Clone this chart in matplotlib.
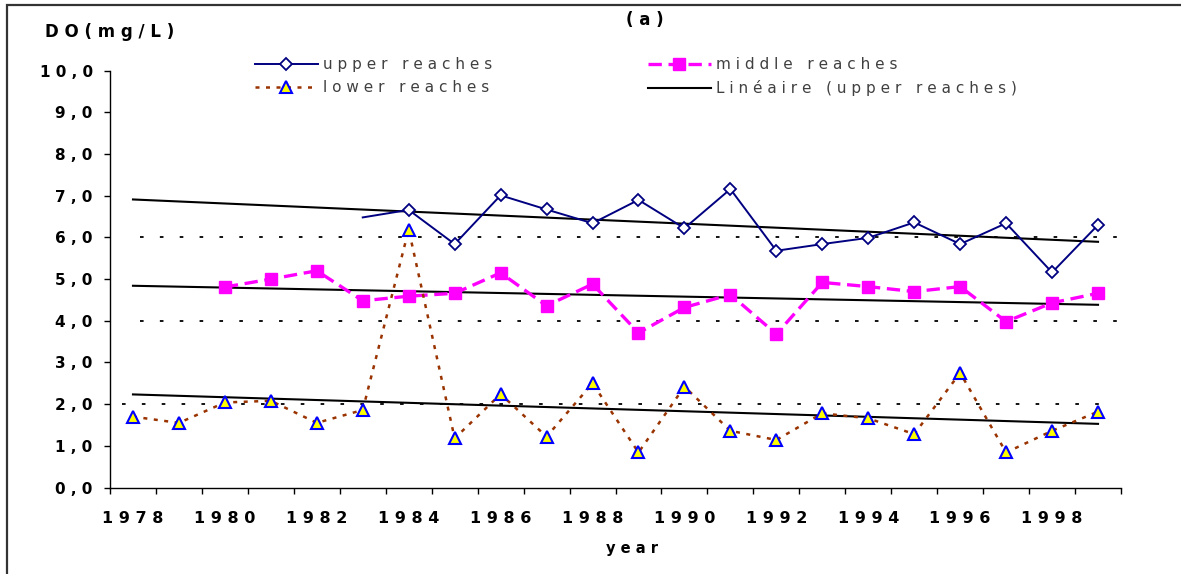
import numpy as np
import matplotlib
matplotlib.use('Agg')
import matplotlib.pyplot as plt
from matplotlib.lines import Line2D
from matplotlib.patches import Rectangle

nan = np.nan

years = list(range(1978, 2000))
upper = [nan, nan, nan, nan, nan, 6.48, 6.66, 5.84, 7.01, 6.67, 6.34,
         6.90, 6.22, 7.16, 5.68, 5.84, 5.99, 6.36, 5.84, 6.34, 5.16, 6.30]
middle = [nan, nan, 4.81, 5.00, 5.20, 4.48, 4.59, 4.66, 5.15, 4.36, 4.88,
          3.71, 4.32, 4.63, 3.68, 4.92, 4.82, 4.70, 4.82, 3.98, 4.43, 4.66]
lower = [1.70, 1.55, 2.04, 2.08, 1.55, 1.86, 6.19, 1.18, 2.24, 1.22, 2.50,
         0.84, 2.42, 1.36, 1.14, 1.78, 1.66, 1.28, 2.75, 0.84, 1.36, 1.82]
ref_levels = [6.0, 4.0, 2.0]
yticks = list(range(0, 11))

FONT = ['Liberation Sans Narrow', 'DejaVu Sans']
plt.rcParams['font.family'] = FONT


def spaced(s):
    return ' '.join(s)


W, H = 1181, 574
fig = plt.figure(figsize=(W / 100, H / 100), dpi=100)
ax = fig.add_axes([110 / W, 1 - 487.5 / H, (1121 - 110) / W, (487.5 - 70.7) / H])

x = np.arange(len(years))

# dotted reference levels
spans = {6.0: (0.03, 1.002), 4.0: (0.03, 1.003), 2.0: (0.012, 0.989)}
for lv in ref_levels:
    a, b = spans[lv]
    ax.axhline(lv, a, b, color='black', lw=1.3, dashes=(2, 9), clip_on=False)

# series
up = np.array(upper)
mid = np.array(middle)
low = np.array(lower)

ku = ~np.isnan(up)
xu, yu = x[ku], up[ku]
ax.plot(xu, yu, color='#000080', lw=1.4, marker='D', ms=5.8, mfc='white',
        mec='#000080', mew=1.3, markevery=list(range(1, len(xu))), zorder=4)

km = ~np.isnan(mid)
ax.plot(x[km], mid[km], color='#ff00ff', lw=2.4, dashes=(4, 2), marker='s',
        ms=8, mfc='#ff00ff', mec='#ff00ff', zorder=4)

ax.plot(x, low, color='#993300', lw=1.8, dashes=(1.6, 2.6), marker='^',
        ms=8, mfc='#ffff00', mec='#0000ff', mew=1.5, zorder=4)

# linear trends over the full year range
for ser in (up, mid, low):
    k = ~np.isnan(ser)
    c = np.polyfit(x[k], ser[k], 1)
    ax.plot(x, np.polyval(c, x), color='black', lw=1.5, zorder=3)

ax.set_xlim(-0.5, len(years) - 0.5)
ax.set_ylim(0, 10)
for s in ('top', 'right'):
    ax.spines[s].set_visible(False)
for s in ('left', 'bottom'):
    ax.spines[s].set_linewidth(1.0)

ax.set_yticks(yticks)
ax.set_yticklabels([spaced(f'{v:.1f}'.replace('.', ',')) for v in yticks],
                   fontsize=11, fontweight='bold')
ax.tick_params(axis='y', length=4.5, width=1, pad=8)

ax.set_xticks(np.arange(-0.5, len(years), 1))
ax.set_xticklabels([])
ax.tick_params(axis='x', which='major', length=4.5, width=1)
ax.set_xticks(x[::2], minor=True)
ax.set_xticklabels([spaced(str(y)) for y in years[::2]], minor=True,
                   fontsize=11.5, fontweight='bold')
ax.tick_params(axis='x', which='minor', length=0, pad=17)

fig.text(45 / W, 1 - 32 / H, spaced('DO(mg/L)'), fontsize=12, fontweight='bold',
         ha='left', va='center')
fig.text(645 / W, 1 - 20 / H, spaced('(a)'), fontsize=12, fontweight='bold',
         ha='center', va='center')
fig.text(632 / W, 1 - 548 / H, spaced('year'), fontsize=10.5, fontweight='bold',
         ha='center', va='center')

# legends
h_up = Line2D([], [], color='#000080', lw=1.4, marker='D', ms=5.8, mfc='white',
              mec='#000080', mew=1.3)
h_low = Line2D([], [], color='#993300', lw=1.8, dashes=(1.6, 2.6), marker='^',
               ms=8, mfc='#ffff00', mec='#0000ff', mew=1.5)
h_mid = Line2D([], [], color='#ff00ff', lw=2.4, dashes=(4, 2), marker='s', ms=8,
               mfc='#ff00ff', mec='#ff00ff')
h_tr = Line2D([], [], color='black', lw=1.5)

kw = dict(loc='upper left', frameon=False, fontsize=11, handlelength=4.1,
          handletextpad=0.35, labelspacing=0.55, borderpad=0, borderaxespad=0,
          labelcolor='#404040', bbox_transform=fig.transFigure)
leg1 = ax.legend([h_up, h_low], [spaced('upper reaches'), spaced('lower reaches')],
                 bbox_to_anchor=(255 / W, 1 - 57 / H), **kw)
ax.add_artist(leg1)
ax.legend([h_mid, h_tr], [spaced('middle reaches'), spaced('Linéaire (upper reaches)')],
          bbox_to_anchor=(648 / W, 1 - 57 / H), **kw)

fig.patches.append(Rectangle((7 / W, -0.1), 2, 1 - 5 / H + 0.1, transform=fig.transFigure,
                             fill=False, edgecolor='#333333', lw=1.6))

fig.savefig('out.png', dpi=100)
